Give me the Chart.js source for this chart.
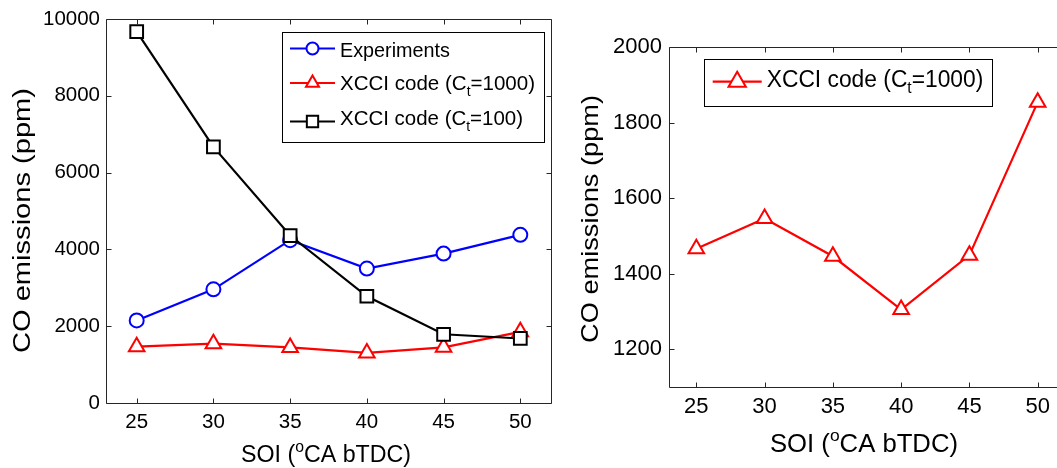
<!DOCTYPE html>
<html>
<head>
<meta charset="utf-8">
<title>CO emissions vs SOI</title>
<script src="https://cdn.jsdelivr.net/npm/chart.js@4/dist/chart.umd.min.js"></script>
<style>
  html, body { margin: 0; padding: 0; background: #fff; overflow: hidden; width: 1057px; height: 468px; }
  #leftBox  { position: absolute; left: 0;     top: 0; width: 580px; height: 468px; }
  #rightBox { position: absolute; left: 560px; top: 0; width: 520px; height: 468px; }
  canvas { display: block; }
</style>
</head>
<body>
<div id="leftBox"><canvas id="leftChart" width="580" height="468"></canvas></div>
<div id="rightBox"><canvas id="rightChart" width="520" height="468"></canvas></div>
<script>
// Start of injection (SOI), degrees crank angle before TDC
const soi = [25, 30, 35, 40, 45, 50];

// CO emissions (ppm)
const experiments = [2150, 2960, 4240, 3500, 3890, 4380];
const xcciCt1000  = [1466, 1546, 1446, 1305, 1449, 1854];
const xcciCt100   = [9670, 6670, 4360, 2780, 1790, 1680];

// Axis ticks
const soiTicks      = [25, 30, 35, 40, 45, 50];
const coTicksFull   = [0, 2000, 4000, 6000, 8000, 10000];
const coTicksDetail = [1200, 1400, 1600, 1800, 2000];

const FONT = "'Liberation Sans', Arial, Helvetica, sans-serif";
const AXIS_COLOR = '#262626';

// Text with optional sub/superscript runs, optionally stretched to a given length
function measureRich(ctx, parts, size) {
  let w = 0;
  const runs = parts.map(p => {
    const s = (p.sub || p.sup) ? size * 0.68 : size;
    ctx.font = s + 'px ' + FONT;
    const rw = ctx.measureText(p.t).width;
    w += rw;
    return { t: p.t, sub: p.sub, sup: p.sup, s, w: rw };
  });
  return { runs, w };
}
function drawRich(ctx, parts, o) {
  ctx.save();
  ctx.translate(o.x, o.y);
  if (o.angle) ctx.rotate(o.angle);
  const m = measureRich(ctx, parts, o.size);
  const sx = o.width ? o.width / m.w : 1;
  ctx.scale(sx, 1);
  let x = o.align === 'center' ? -m.w / 2 : 0;
  ctx.fillStyle = '#000';
  ctx.textAlign = 'left';
  ctx.textBaseline = 'alphabetic';
  for (const r of m.runs) {
    ctx.font = r.s + 'px ' + FONT;
    const dy = r.sup ? -o.size * 0.42 : (r.sub ? o.size * 0.3 : 0);
    ctx.fillText(r.t, x, dy);
    x += r.w;
  }
  ctx.restore();
}

// Open markers with a white face, same geometry as Chart.js point styles
function drawMarker(ctx, style, x, y, r, color) {
  ctx.save();
  ctx.beginPath();
  if (style === 'circle') {
    ctx.arc(x, y, r, 0, Math.PI * 2);
  } else if (style === 'triangle') {
    const a = 2 * Math.PI / 3;
    ctx.moveTo(x, y - r);
    ctx.lineTo(x + r * Math.sin(a), y - r * Math.cos(a));
    ctx.lineTo(x + r * Math.sin(2 * a), y - r * Math.cos(2 * a));
    ctx.closePath();
  } else {
    const s = r * Math.SQRT1_2;
    ctx.rect(x - s, y - s, 2 * s, 2 * s);
  }
  ctx.fillStyle = '#fff';
  ctx.fill();
  ctx.lineWidth = 2;
  ctx.strokeStyle = color;
  ctx.stroke();
  ctx.restore();
}

// Boxed axes with inward ticks on all four sides, axis titles and legend
function makeFrame(cfg) {
  return {
    id: 'frame',
    afterDraw(chart) {
      const ctx = chart.ctx;
      const { left, top, right, bottom } = chart.chartArea;
      const xs = chart.scales.x, ys = chart.scales.y;
      const L = Math.round(left) + 0.5, R = Math.round(right) + 0.5;
      const T = Math.round(top) + 0.5, B = Math.round(bottom) + 0.5;
      const tl = 5;
      ctx.save();
      ctx.strokeStyle = AXIS_COLOR;
      ctx.lineWidth = 1;
      ctx.beginPath();
      ctx.rect(L, T, R - L, B - T);
      xs.ticks.forEach(t => {
        const px = Math.round(xs.getPixelForValue(t.value)) + 0.5;
        ctx.moveTo(px, B); ctx.lineTo(px, B - tl);
        ctx.moveTo(px, T); ctx.lineTo(px, T + tl);
      });
      ys.ticks.forEach(t => {
        const py = Math.round(ys.getPixelForValue(t.value)) + 0.5;
        ctx.moveTo(L, py); ctx.lineTo(L + tl, py);
        ctx.moveTo(R, py); ctx.lineTo(R - tl, py);
      });
      ctx.stroke();
      ctx.restore();

      drawRich(ctx, cfg.yTitle.parts, Object.assign({ angle: -Math.PI / 2, align: 'center' }, cfg.yTitle));
      drawRich(ctx, cfg.xTitle.parts, Object.assign({ align: 'center' }, cfg.xTitle));

      const lg = cfg.legend;
      ctx.save();
      ctx.fillStyle = '#fff';
      ctx.fillRect(lg.box[0], lg.box[1], lg.box[2] - lg.box[0], lg.box[3] - lg.box[1]);
      ctx.strokeStyle = '#000';
      ctx.lineWidth = 1;
      ctx.strokeRect(Math.round(lg.box[0]) + 0.5, Math.round(lg.box[1]) + 0.5,
                     Math.round(lg.box[2] - lg.box[0]), Math.round(lg.box[3] - lg.box[1]));
      lg.items.forEach(it => {
        ctx.beginPath();
        ctx.strokeStyle = it.color;
        ctx.lineWidth = 2.2;
        ctx.moveTo(lg.lineX[0], it.y);
        ctx.lineTo(lg.lineX[1], it.y);
        ctx.stroke();
        drawMarker(ctx, it.style, (lg.lineX[0] + lg.lineX[1]) / 2, it.y, it.r, it.color);
        drawRich(ctx, it.parts, { x: lg.textX, y: it.baseline, size: lg.size, width: it.width });
      });
      ctx.restore();
    }
  };
}

function fixedTicks(values) {
  return scale => { scale.ticks = values.map(v => ({ value: v })); };
}

const soiTitle = [{ t: 'SOI (' }, { t: 'o', sup: true }, { t: 'CA bTDC)' }];
const coTitle  = [{ t: 'CO emissions (ppm)' }];
const lblExp   = [{ t: 'Experiments' }];
const lbl1000  = [{ t: 'XCCI code (C' }, { t: 't', sub: true }, { t: '=1000)' }];
const lbl100   = [{ t: 'XCCI code (C' }, { t: 't', sub: true }, { t: '=100)' }];

function lineDataset(label, values, color, style, radius, order) {
  return {
    label,
    data: soi.map((x, i) => ({ x, y: values[i] })),
    borderColor: color,
    borderWidth: 2.2,
    pointStyle: style,
    pointRadius: radius,
    pointHoverRadius: radius,
    pointBorderColor: color,
    pointBackgroundColor: '#fff',
    pointBorderWidth: 2,
    tension: 0,
    fill: false,
    order
  };
}

function axes(cfg) {
  const plain = v => String(v);
  return {
    x: {
      type: 'linear', min: 23, max: 52,
      afterBuildTicks: fixedTicks(soiTicks),
      afterFit: s => { s.height = cfg.xh; },
      grid: { display: false, drawTicks: false },
      border: { display: false },
      ticks: { color: '#000', font: { family: FONT, size: cfg.fs }, padding: cfg.xpad, maxRotation: 0, autoSkip: false, callback: plain }
    },
    y: {
      type: 'linear', min: cfg.ymin, max: cfg.ymax,
      afterBuildTicks: fixedTicks(cfg.yticks),
      afterFit: s => { s.width = cfg.yw; },
      grid: { display: false, drawTicks: false },
      border: { display: false },
      ticks: { color: '#000', font: { family: FONT, size: cfg.fs }, padding: cfg.ypad, callback: plain }
    }
  };
}

const common = {
  responsive: false,
  animation: false,
  devicePixelRatio: 1,
  plugins: { legend: { display: false }, tooltip: { enabled: false } }
};

// Left panel: all three series
new Chart(document.getElementById('leftChart'), {
  type: 'line',
  data: {
    datasets: [
      lineDataset('Experiments', experiments, '#0000ff', 'circle', 7, 3),
      lineDataset('XCCI code (Ct=1000)', xcciCt1000, '#ff0000', 'triangle', 9, 2),
      lineDataset('XCCI code (Ct=100)', xcciCt100, '#000000', 'rect', 9, 1)
    ]
  },
  options: Object.assign({}, common, {
    layout: { padding: { left: 0, top: 19, right: 29, bottom: 0 } },
    scales: axes({ xh: 65, yw: 106, fs: 20.5, xpad: 7, ypad: 6, ymin: 0, ymax: 10000, yticks: coTicksFull })
  }),
  plugins: [makeFrame({
    yTitle: { parts: coTitle, x: 30, y: 220.5, size: 23, width: 265 },
    xTitle: { parts: soiTitle, x: 326, y: 462, size: 23, width: 170 },
    legend: {
      box: [282, 32, 543.5, 141.5], lineX: [290, 335], textX: 340, size: 21,
      items: [
        { parts: lblExp,  color: '#0000ff', style: 'circle',   r: 6,   y: 48.5,  baseline: 56.5, width: 110 },
        { parts: lbl1000, color: '#ff0000', style: 'triangle', r: 7.5, y: 83,    baseline: 90,   width: 195 },
        { parts: lbl100,  color: '#000000', style: 'rect',     r: 8,   y: 121.5, baseline: 125,  width: 183 }
      ]
    }
  })]
});

// Right panel: detailed view of the Ct=1000 prediction
new Chart(document.getElementById('rightChart'), {
  type: 'line',
  data: {
    datasets: [
      lineDataset('XCCI code (Ct=1000)', xcciCt1000, '#ff0000', 'triangle', 9, 1)
    ]
  },
  options: Object.assign({}, common, {
    layout: { padding: { left: 0, top: 47, right: 15, bottom: 0 } },
    scales: axes({ xh: 81, yw: 109, fs: 22, xpad: 7, ypad: 7, ymin: 1100, ymax: 2000, yticks: coTicksDetail })
  }),
  plugins: [makeFrame({
    yTitle: { parts: coTitle, x: 37.5, y: 219, size: 24, width: 248 },
    xTitle: { parts: soiTitle, x: 304, y: 451.5, size: 25, width: 188 },
    legend: {
      box: [144, 58.5, 431.5, 105], lineX: [152.7, 201.7], textX: 206.7, size: 23,
      items: [
        { parts: lbl1000, color: '#ff0000', style: 'triangle', r: 10, y: 81.7, baseline: 86.5, width: 216.6 }
      ]
    }
  })]
});
</script>
</body>
</html>
